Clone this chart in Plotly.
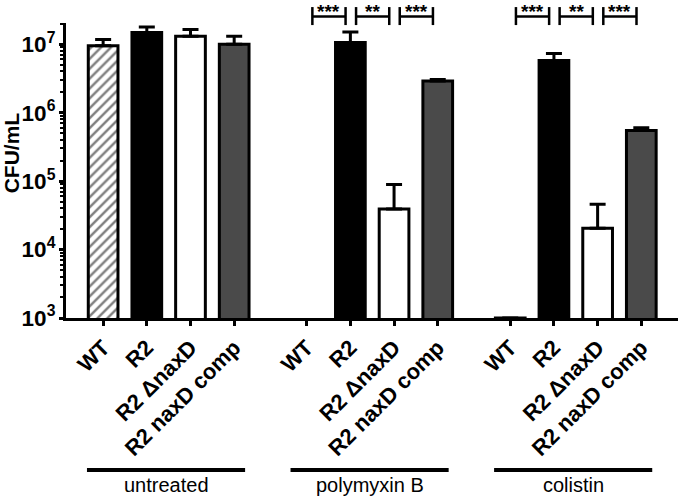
import plotly.graph_objects as go

# ---- data ----
treatments = ["untreated", "polymyxin B", "colistin"]
strains = ["WT", "R2", "R2 \u0394naxD", "R2 naxD comp"]
# CFU/mL means per strain, in order of treatments
wt_vals = [9.5e6, None, 1.0e3]
r2_vals = [1.48e7, 1.06e7, 5.8e6]
dnaxd_vals = [1.31e7, 3.9e4, 2.05e4]
comp_vals = [1.0e7, 2.9e6, 5.5e5]
# upper error (absolute top of error bar)
wt_err_top = [1.17e7, None, None]
r2_err_top = [1.79e7, 1.51e7, 7.3e6]
dnaxd_err_top = [1.64e7, 8.9e4, 4.6e4]
comp_err_top = [1.31e7, 3.05e6, 6.0e5]
# significance labels between neighbouring strains (treated groups only)
sig_polymyxin = ["***", "**", "***"]
sig_colistin = ["***", "**", "***"]

FONT = "'Liberation Sans', Arial, sans-serif"
GAP = 1.66
BARW = 0.68

def pos(g, i):
    return g * (3 + GAP) + i

series = [
    (strains[0], wt_vals, wt_err_top, dict(color="white", pattern=dict(shape="/", fgcolor="black", bgcolor="white", size=7, solidity=0.35))),
    (strains[1], r2_vals, r2_err_top, dict(color="black")),
    (strains[2], dnaxd_vals, dnaxd_err_top, dict(color="white")),
    (strains[3], comp_vals, comp_err_top, dict(color="#4a4a4a")),
]

fig = go.Figure()
for i, (name, vals, tops, mk) in enumerate(series):
    xs = [pos(g, i) for g in range(3)]
    errs = [(t - v) if (t is not None and v is not None) else 0 for v, t in zip(vals, tops)]
    mk = dict(mk)
    mk["line"] = dict(color="black", width=3)
    fig.add_trace(go.Bar(
        x=xs, y=vals, name=name, width=BARW, marker=mk,
        error_y=dict(type="data", symmetric=False, array=errs, arrayminus=[0] * 3,
                     color="black", thickness=3, width=8, visible=True),
        showlegend=False, hoverinfo="skip",
    ))

tickvals = [pos(g, i) for g in range(3) for i in range(4)]
ticktext = [strains[i] for g in range(3) for i in range(4)]

fig.update_layout(
    width=680, height=497,
    margin=dict(l=66, r=2, t=23, b=179),
    paper_bgcolor="white", plot_bgcolor="white",
    font=dict(family=FONT, color="black"),
    barmode="overlay",
    xaxis=dict(
        range=[-0.85, 13.16], tickmode="array", tickvals=tickvals, ticktext=ticktext,
        tickangle=-45, tickfont=dict(size=22, family=FONT, weight="bold"),
        showline=True, linecolor="black", linewidth=3, ticks="outside", ticklen=5,
        tickwidth=3, tickcolor="black", showgrid=False, zeroline=False, automargin=False,
    ),
    yaxis=dict(
        type="log", range=[3, 7.31], dtick=1, exponentformat="power",
        tickfont=dict(size=18, family=FONT, weight="bold"),
        showline=True, linecolor="black", linewidth=3, ticks="outside", ticklen=4,
        tickwidth=3, tickcolor="black", showgrid=False, zeroline=False, automargin=False,
        minor=dict(ticks="outside", ticklen=3, tickwidth=2, tickcolor="black", dtick="D1", showgrid=False),
    ),
)

shapes = []
annotations = []
# y-axis title
annotations.append(dict(text="CFU/mL", xref="paper", yref="paper", x=-0.089, y=0.56, textangle=-90,
                        showarrow=False, xanchor="center", yanchor="middle",
                        font=dict(size=21, family=FONT, weight="bold")))
# group underline + labels
for g, t in enumerate(treatments):
    shapes.append(dict(type="line", xref="x", yref="paper", x0=pos(g, 0) - 0.37, x1=pos(g, 0) + 3.25,
                       y0=-0.515, y1=-0.515, line=dict(color="black", width=4)))
    annotations.append(dict(text=t, xref="x", yref="paper", x=pos(g, 0) + 1.44, y=-0.567,
                            showarrow=False, font=dict(size=20, family=FONT), yanchor="middle"))

# significance brackets
ytop, ybot, ymid = 1.054, 0.993, 1.022
for g, sigs in ((1, sig_polymyxin), (2, sig_colistin)):
    for i, s in enumerate(sigs):
        xa = pos(g, i) + 0.13
        xb = pos(g, i + 1) - 0.11
        shapes.append(dict(type="line", xref="x", yref="paper", x0=xa, x1=xb, y0=ymid, y1=ymid,
                           line=dict(color="black", width=2.5)))
        for xx in (xa, xb):
            shapes.append(dict(type="line", xref="x", yref="paper", x0=xx, x1=xx, y0=ybot, y1=ytop,
                               line=dict(color="black", width=2.5)))
        annotations.append(dict(text=s, xref="x", yref="paper", x=(xa + xb) / 2, y=0.995,
                                showarrow=False, yanchor="bottom",
                                font=dict(size=19, family=FONT, weight="bold")))

fig.update_layout(shapes=shapes, annotations=annotations)
fig.write_html("out.html", config={"displayModeBar": False},
               post_script="document.body.style.margin='0';document.body.style.overflow='hidden';")
